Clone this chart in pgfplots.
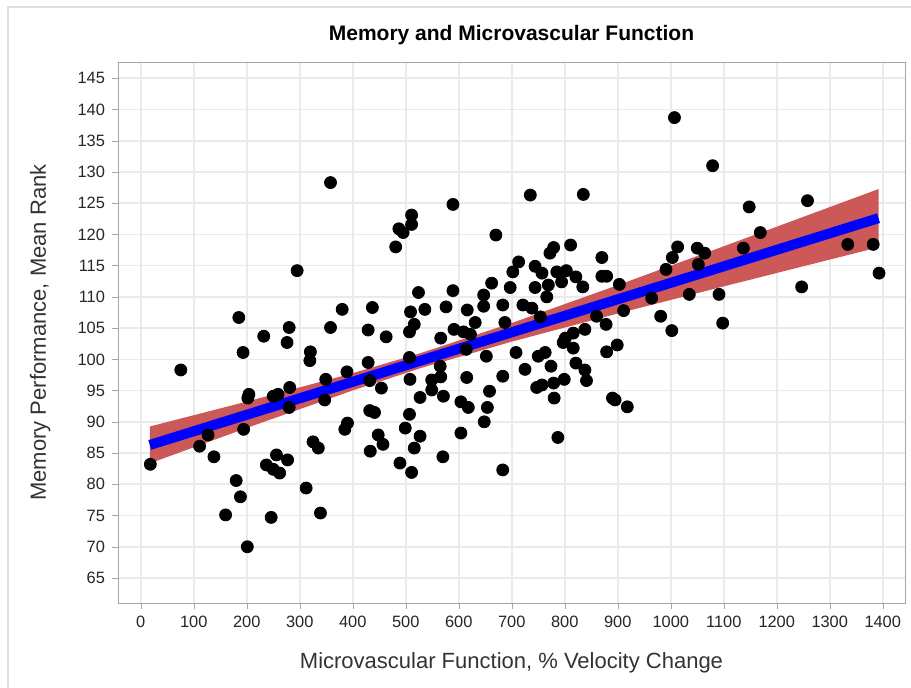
\documentclass[border=0pt]{standalone}
\usepackage{pgfplots}
\pgfplotsset{compat=1.18}
\usepackage{fontspec}
\setmainfont{Liberation Sans}
\definecolor{bandred}{RGB}{204,88,88}
\definecolor{gridgray}{RGB}{234,234,234}
\definecolor{framegray}{RGB}{165,165,165}

\begin{document}
\begin{tikzpicture}
\useasboundingbox (0,0) rectangle (455.5pt,344pt);
\draw[gray!25, line width=0.8pt] (4pt,0) -- (4pt,340.5pt) -- (455.5pt,340.5pt);

\begin{axis}[
  at={(59pt,42.5pt)}, anchor=south west,
  scale only axis,
  width=393.5pt, height=270.5pt,
  xmin=-43, xmax=1442,
  ymin=61, ymax=147.6,
  xtick={0,100,...,1400},
  ytick={65,70,...,145},
  xtick pos=left, ytick pos=left,
  tick align=outside,
  major tick length=3pt,
  tick style={framegray},
  axis line style={framegray},
  grid=major,
  major grid style={gridgray, line width=0.8pt},
  /pgf/number format/1000 sep={},
  /pgf/number format/assume math mode=true,
  tick label style={font=\fontsize{8.2}{9}\selectfont, black!85},
  title={\bfseries Memory and Microvascular Function},
  every axis title shift=0pt,
  title style={font=\fontsize{10.5}{12}\selectfont, at={(axis description cs:0.5,1.05)}, anchor=center},
  xlabel={Microvascular Function, \% Velocity Change},
  ylabel={Memory Performance, Mean Rank},
  xlabel style={font=\fontsize{11}{13}\selectfont, black!80, at={(axis description cs:0.5,-0.11)}, anchor=center},
  ylabel style={font=\fontsize{11}{13}\selectfont, black!80, at={(axis description cs:-0.099,0.5)}, anchor=center, rotate=0},
]

% confidence band
\addplot[fill=bandred, draw=none] coordinates {
(17,89.25)(200,93.24)(400,97.79)(532,101.10)(700,105.82)(900,111.88)(1100,118.10)(1392,127.26)
(1392,117.94)(1100,111.68)(900,107.34)(700,102.84)(532,98.70)(400,95.03)(200,89.02)(17,83.35)
};

% observations
\addplot[only marks, mark=*, mark size=3pt, black] coordinates {
(358,128.3)(295,114.2)(185,106.7)(232,103.7)(280,105.1)(276,102.7)(358,105.1)(380,108.0)
(437,108.3)(429,104.7)(463,103.6)
(75.5,98.3)(193,101.1)(320,101.2)(319,99.8)(429,99.5)(389,98.0)(349,96.8)(281,95.5)
(259,94.4)(250,94.1)(204,94.4)(202,93.8)(280,92.3)(347,93.5)(454,95.4)(432,96.6)
(432,91.8)(441,91.5)(448,87.9)(457,86.4)(433,85.3)(385,88.8)(390,89.8)(325,86.8)
(335,85.8)(312,79.4)(339,75.4)(194,88.8)(127,87.9)(111,86.1)(138,84.4)(18,83.2)
(180,80.6)(188,78.0)(160,75.1)(246,74.7)(201,70.0)(237,83.1)(256,84.7)(277,83.9)
(250,82.4)(262,81.8)
(735,126.3)(835,126.4)(589,124.8)(511,123.1)(511,121.6)(487,120.9)(495,120.3)(481,118.0)
(670,119.9)(811,118.3)(779,117.9)(772,117.0)(870,116.3)(713,115.6)(702,114.0)(744,114.9)
(757,113.8)(785,114.0)(803,114.2)(821,113.2)(834,111.6)(870,113.3)(879,113.3)(903,112.0)
(911,107.8)(878,105.6)(860,106.9)(794,112.4)(769,111.9)(766,110.0)(744,111.5)(697,111.5)
(662,112.2)(647,110.3)(647,108.5)(683,108.7)(721,108.7)(738,108.2)(616,107.9)(589,111.0)
(576,108.4)(524,110.7)(509,107.6)(536,108.0)(516,105.6)(507,104.4)(591,104.8)(609,104.4)
(631,105.9)(687,105.9)(566,103.4)(754,106.8)(801,103.4)(816,104.2)(838,104.8)
(622,104.0)(614,101.6)(507,100.3)(565,98.9)(566,97.2)(508,96.8)(549,96.7)(549,95.1)
(571,94.1)(527,93.9)(507,91.2)(499,89.0)(527,87.7)(516,85.8)(489,83.4)(511,81.9)
(570,84.4)(604,88.2)(615,97.1)(604,93.2)(618,92.3)(652,100.5)(658,94.9)(654,92.3)
(648,90.0)(683,97.3)(683,82.3)(708,101.1)(725,98.4)(750,100.5)(763,101.1)(774,98.9)
(747,95.5)(757,95.9)(779,96.2)(780,93.8)(787,87.5)(799,96.8)(797,102.7)(816,101.8)
(821,99.4)(838,98.3)(841,96.6)(879,101.2)(899,102.3)(890,93.8)(895,93.5)(918,92.4)
(1007,138.7)(1079,131.0)(1148,124.4)(1258,125.4)(1169,120.3)(1137,117.8)(1013,118.0)
(1003,116.3)(991,114.4)(1050,117.8)(1064,117.0)(1052,115.2)(1334,118.4)(1382,118.4)
(1393,113.8)(1247,111.6)(1035,110.4)(1091,110.4)(964,109.8)(981,106.9)(1002,104.6)
(1098,105.8)
};

% fitted line
\addplot[color=blue, line width=5pt] coordinates {(17,86.3)(1392,122.6)};

\end{axis}
\end{tikzpicture}
\end{document}
